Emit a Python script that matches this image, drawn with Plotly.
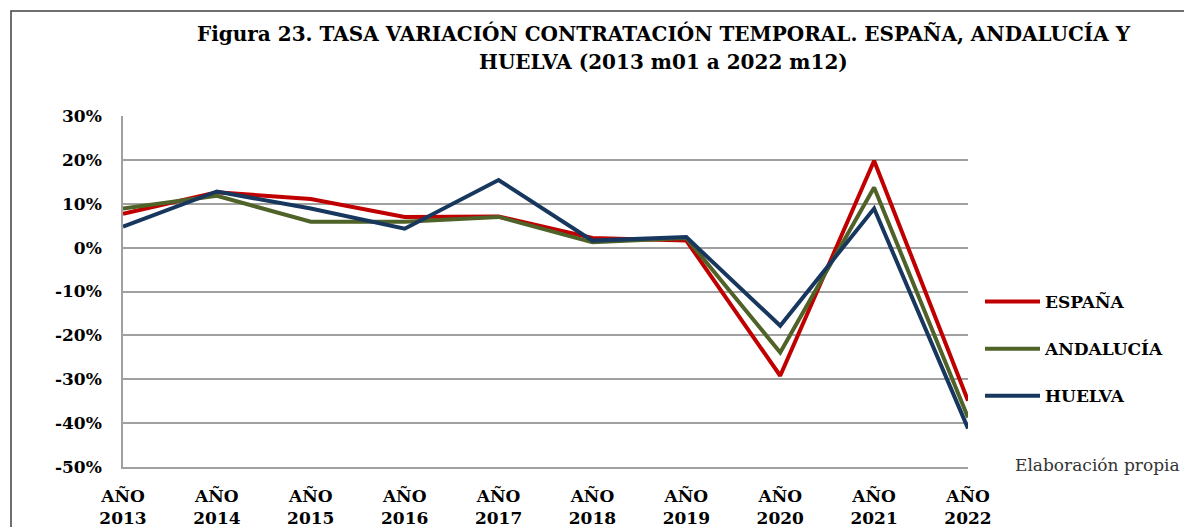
import plotly.graph_objects as go

# --- Datos (tasa de variación, %)
anios = [2013, 2014, 2015, 2016, 2017, 2018, 2019, 2020, 2021, 2022]
etiquetas_x = ["AÑO<br>%d" % a for a in anios]
ticks_y = [30, 20, 10, 0, -10, -20, -30, -40, -50]
etiquetas_y = ["30%", "20%", "10%", "0%", "-10%", "-20%", "-30%", "-40%", "-50%"]

espana = [7.7, 12.6, 11.1, 7.0, 7.1, 2.2, 1.6, -29.2, 19.8, -34.9]
andalucia = [8.9, 11.8, 5.9, 5.9, 7.0, 1.2, 2.2, -23.9, 13.7, -38.7]
huelva = [4.8, 12.8, 8.9, 4.3, 15.4, 1.6, 2.4, -17.8, 8.9, -41.2]

series = [
    ("ESPAÑA", espana, "#C00000"),
    ("ANDALUCÍA", andalucia, "#4F6228"),
    ("HUELVA", huelva, "#17375E"),
]

# la página tiene un margen de 8px en el body
OFF = 8
W, H = 1192 - OFF, 527 - OFF
ML, MT = 123 - OFF, 116 - OFF
MR, MB = 224, 60
PW = W - ML - MR
PH = H - MT - MB


def px_x(x):
    return (x - OFF - ML) / PW


def px_y(y):
    return (H - MB - (y - OFF)) / PH


fuente = "DejaVu Serif"

fig = go.Figure()

for nombre, valores, color in series:
    fig.add_trace(go.Scatter(
        x=anios,
        y=valores,
        mode="lines",
        name=nombre,
        legendgroup=nombre,
        line=dict(color=color, width=4),
        hoverinfo="skip",
    ))

# --- Título (dos líneas)
fig.add_annotation(text="<b>Figura 23. TASA VARIACIÓN CONTRATACIÓN TEMPORAL. ESPAÑA, ANDALUCÍA Y</b>",
                   xref="paper", yref="paper", x=px_x(664), y=px_y(33),
                   xanchor="center", yanchor="middle", showarrow=False,
                   font=dict(family=fuente, size=20, color="black"))
fig.add_annotation(text="<b>HUELVA (2013 m01 a 2022 m12)</b>",
                   xref="paper", yref="paper", x=px_x(663), y=px_y(62),
                   xanchor="center", yanchor="middle", showarrow=False,
                   font=dict(family=fuente, size=20, color="black"))

# --- Fuente
fig.add_annotation(text="Elaboración propia",
                   xref="paper", yref="paper", x=px_x(1097), y=px_y(465),
                   xanchor="center", yanchor="middle", showarrow=False,
                   font=dict(family=fuente, size=17, color="#333333"))

# --- Marco exterior
fig.add_shape(type="rect", xref="paper", yref="paper",
              x0=px_x(11), x1=px_x(1220),
              y0=px_y(600), y1=px_y(11),
              line=dict(color="#404040", width=1.5), fillcolor="rgba(0,0,0,0)")

fig.update_layout(
    width=W,
    height=H,
    margin=dict(l=ML, r=MR, t=MT, b=MB, autoexpand=False),
    paper_bgcolor="white",
    plot_bgcolor="white",
    font=dict(family=fuente, color="black"),
    showlegend=True,
    legend=dict(
        x=px_x(980), xanchor="left",
        y=px_y(284), yanchor="top",
        font=dict(family=fuente, size=17, color="black", weight="bold"),
        tracegroupgap=22,
        bgcolor="rgba(0,0,0,0)",
        itemwidth=55,
    ),
    xaxis=dict(
        tickmode="array",
        tickvals=anios,
        ticktext=["<b>%s</b>" % t for t in etiquetas_x],
        range=[anios[0], anios[-1]],
        showgrid=False,
        showline=True,
        linecolor="#A0A0A0",
        linewidth=1.5,
        ticks="",
        tickfont=dict(family=fuente, size=17, color="black"),
        ticklabelstandoff=13,
        zeroline=False,
        automargin=False,
    ),
    yaxis=dict(
        range=[-50, 30],
        tickmode="array",
        tickvals=ticks_y,
        ticktext=etiquetas_y,
        showgrid=True,
        gridcolor="#A0A0A0",
        gridwidth=1.5,
        showline=True,
        linecolor="#A0A0A0",
        linewidth=1.5,
        zeroline=False,
        ticks="",
        tickfont=dict(family=fuente, size=17, color="black", weight="bold"),
        ticklabelstandoff=16,
        automargin=False,
    ),
)

fig.write_html("out.html")
